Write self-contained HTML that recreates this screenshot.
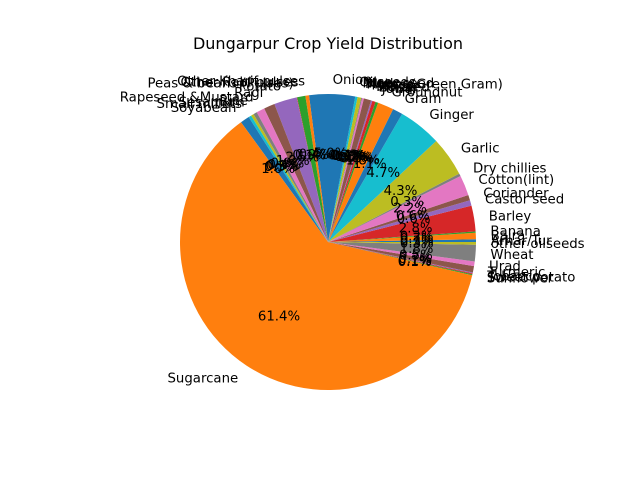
<!DOCTYPE html>
<html><head><meta charset="utf-8"><style>
html,body{margin:0;padding:0;background:#fff;}
svg{display:block;font-family:"DejaVu Sans","Liberation Sans",sans-serif;}
</style></head><body>
<svg id="chart" width="640" height="480" viewBox="0 0 640 480">
<rect width="640" height="480" fill="#fff"/>
<text x="328" y="49" text-anchor="middle" font-size="16">Dungarpur Crop Yield Distribution</text>
<g id="slices"></g>
<g id="labels"></g>
</svg>
<script>
const crops = ["Arhar/Tur","Bajra","Banana","Barley","Castor seed","Coriander","Cotton(lint)","Dry chillies","Garlic","Ginger","Gram","Groundnut","Jowar","Linseed","Maize","Masoor","Moong(Green Gram)","Moth","Niger seed","Oilseeds","Onion","Other Kharif pulses","Other Rabi pulses","Peas & beans (Pulses)","Potato","Ragi","Rapeseed &Mustard","Rice","Sesamum","Small millets","Soyabean","Sugarcane","Sunflower","Sweet potato","Tobacco","Turmeric","Urad","Wheat","other oilseeds"];
const yields = [0.3,0.7,0.15,2.8,0.6,0.6,2.2,0.3,4.3,4.7,1.1,1.75,0.3,0.35,0.15,0.8,0.2,0.1,0.4,0.25,5.0,0.4,0.9,0.05,2.5,1.2,0.9,0.4,0.3,0.3,1.0,61.4,0.1,0.1,0.1,0.7,0.5,1.8,0.3];
const palette = ["#1f77b4","#ff7f0e","#2ca02c","#d62728","#9467bd","#8c564b","#e377c2","#7f7f7f","#bcbd22","#17becf"];

const cx = 328, cy = 242, R = 148;
const NS = "http://www.w3.org/2000/svg";
const total = yields.reduce((a,b)=>a+b,0);
const gS = document.getElementById('slices');
const gL = document.getElementById('labels');
function pt(a, r){ const t = a*Math.PI/180; return [cx + r*Math.cos(t), cy - r*Math.sin(t)]; }
let start = 0;
yields.forEach((v,i)=>{
  const span = v/total*360;
  const end = start + span;
  const [x1,y1] = pt(start,R), [x2,y2] = pt(end,R);
  const large = span > 180 ? 1 : 0;
  const p = document.createElementNS(NS,'path');
  p.setAttribute('d', `M${cx},${cy} L${x1},${y1} A${R},${R} 0 ${large} 0 ${x2},${y2} Z`);
  p.setAttribute('fill', palette[i%10]);
  
  
  gS.appendChild(p);
  const mid = start + span/2;
  const [lx,ly] = pt(mid, R*1.1);
  const t = document.createElementNS(NS,'text');
  t.setAttribute('x', lx); t.setAttribute('y', ly + 4.5);
  t.setAttribute('font-size','13.3');
  t.setAttribute('text-anchor', Math.cos(mid*Math.PI/180) >= 0 ? 'start' : 'end');
  t.textContent = crops[i];
  
  
  gL.appendChild(t);
  const [px,py] = pt(mid, R*0.6);
  const q = document.createElementNS(NS,'text');
  q.setAttribute('x', px); q.setAttribute('y', py + 4.5);
  q.setAttribute('font-size','13.3');
  q.setAttribute('text-anchor','middle');
  q.textContent = (v/total*100).toFixed(1) + '%';
  
  
  gL.appendChild(q);
  start = end;
});
</script>
</body></html>
